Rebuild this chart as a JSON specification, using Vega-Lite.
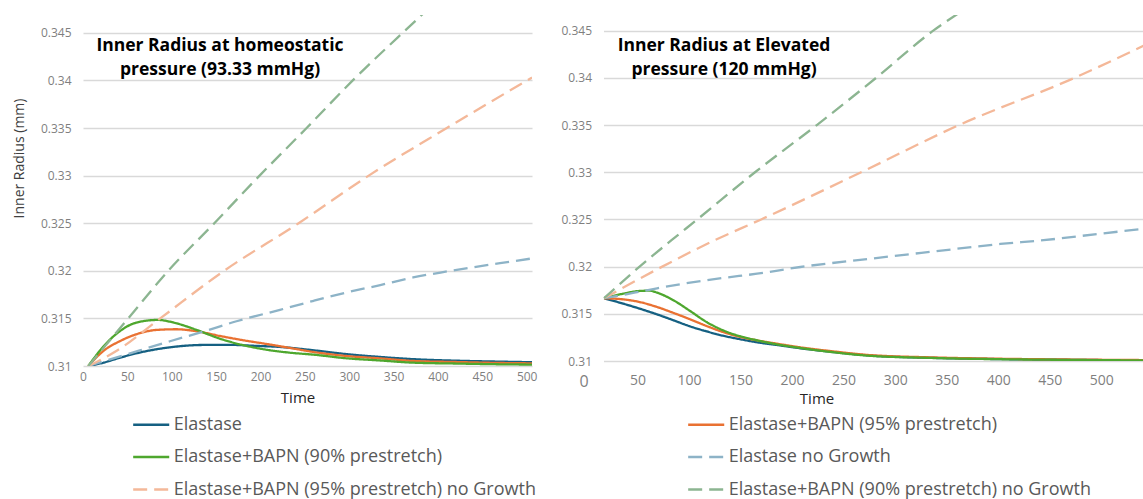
{
  "$schema": "https://vega.github.io/schema/vega-lite/v6.json",
  "background": "white",
  "padding": {"left": 12, "top": 15, "right": 0, "bottom": 0},
  "autosize": {"type": "pad"},
  "bounds": "flush",
  "spacing": 71.5,
  "config": {
    "font": "Open Sans",
    "view": {"stroke": null},
    "axis": {"labelFont": "Open Sans", "titleFont": "Open Sans"}
  },
  "resolve": {"scale": {"x": "independent", "y": "independent", "color": "independent", "strokeDash": "independent"}},
  "datasets": {
    "left": [
      {"t": 6, "r": 0.31, "series": "Elastase"},
      {"t": 23, "r": 0.31035, "series": "Elastase"},
      {"t": 42, "r": 0.31088, "series": "Elastase"},
      {"t": 60, "r": 0.31133, "series": "Elastase"},
      {"t": 83, "r": 0.31176, "series": "Elastase"},
      {"t": 105, "r": 0.31204, "series": "Elastase"},
      {"t": 135, "r": 0.31221, "series": "Elastase"},
      {"t": 165, "r": 0.31222, "series": "Elastase"},
      {"t": 196, "r": 0.31211, "series": "Elastase"},
      {"t": 222, "r": 0.312, "series": "Elastase"},
      {"t": 260, "r": 0.31165, "series": "Elastase"},
      {"t": 297, "r": 0.31125, "series": "Elastase"},
      {"t": 335, "r": 0.31095, "series": "Elastase"},
      {"t": 372, "r": 0.31072, "series": "Elastase"},
      {"t": 420, "r": 0.31056, "series": "Elastase"},
      {"t": 470, "r": 0.31046, "series": "Elastase"},
      {"t": 506, "r": 0.3104, "series": "Elastase"},

      {"t": 6, "r": 0.31, "series": "Elastase+BAPN (95% prestretch)"},
      {"t": 23, "r": 0.31158, "series": "Elastase+BAPN (95% prestretch)"},
      {"t": 42, "r": 0.31263, "series": "Elastase+BAPN (95% prestretch)"},
      {"t": 60, "r": 0.31333, "series": "Elastase+BAPN (95% prestretch)"},
      {"t": 83, "r": 0.31379, "series": "Elastase+BAPN (95% prestretch)"},
      {"t": 105, "r": 0.31386, "series": "Elastase+BAPN (95% prestretch)"},
      {"t": 128, "r": 0.31365, "series": "Elastase+BAPN (95% prestretch)"},
      {"t": 154, "r": 0.31316, "series": "Elastase+BAPN (95% prestretch)"},
      {"t": 181, "r": 0.3127, "series": "Elastase+BAPN (95% prestretch)"},
      {"t": 211, "r": 0.31225, "series": "Elastase+BAPN (95% prestretch)"},
      {"t": 233, "r": 0.3119, "series": "Elastase+BAPN (95% prestretch)"},
      {"t": 260, "r": 0.31147, "series": "Elastase+BAPN (95% prestretch)"},
      {"t": 297, "r": 0.31105, "series": "Elastase+BAPN (95% prestretch)"},
      {"t": 335, "r": 0.3108, "series": "Elastase+BAPN (95% prestretch)"},
      {"t": 372, "r": 0.31053, "series": "Elastase+BAPN (95% prestretch)"},
      {"t": 420, "r": 0.31042, "series": "Elastase+BAPN (95% prestretch)"},
      {"t": 470, "r": 0.31032, "series": "Elastase+BAPN (95% prestretch)"},
      {"t": 506, "r": 0.31028, "series": "Elastase+BAPN (95% prestretch)"},

      {"t": 6, "r": 0.31, "series": "Elastase+BAPN (90% prestretch)"},
      {"t": 23, "r": 0.31205, "series": "Elastase+BAPN (90% prestretch)"},
      {"t": 42, "r": 0.31369, "series": "Elastase+BAPN (90% prestretch)"},
      {"t": 60, "r": 0.31456, "series": "Elastase+BAPN (90% prestretch)"},
      {"t": 84, "r": 0.31484, "series": "Elastase+BAPN (90% prestretch)"},
      {"t": 105, "r": 0.31449, "series": "Elastase+BAPN (90% prestretch)"},
      {"t": 128, "r": 0.31379, "series": "Elastase+BAPN (90% prestretch)"},
      {"t": 154, "r": 0.31288, "series": "Elastase+BAPN (90% prestretch)"},
      {"t": 181, "r": 0.31218, "series": "Elastase+BAPN (90% prestretch)"},
      {"t": 211, "r": 0.31165, "series": "Elastase+BAPN (90% prestretch)"},
      {"t": 233, "r": 0.3114, "series": "Elastase+BAPN (90% prestretch)"},
      {"t": 260, "r": 0.31119, "series": "Elastase+BAPN (90% prestretch)"},
      {"t": 297, "r": 0.31081, "series": "Elastase+BAPN (90% prestretch)"},
      {"t": 335, "r": 0.31058, "series": "Elastase+BAPN (90% prestretch)"},
      {"t": 372, "r": 0.31035, "series": "Elastase+BAPN (90% prestretch)"},
      {"t": 420, "r": 0.31026, "series": "Elastase+BAPN (90% prestretch)"},
      {"t": 470, "r": 0.31018, "series": "Elastase+BAPN (90% prestretch)"},
      {"t": 506, "r": 0.31015, "series": "Elastase+BAPN (90% prestretch)"},

      {"t": 6, "r": 0.31, "series": "Elastase no Growth"},
      {"t": 45, "r": 0.3111, "series": "Elastase no Growth"},
      {"t": 98, "r": 0.3126, "series": "Elastase no Growth"},
      {"t": 135, "r": 0.3136, "series": "Elastase no Growth"},
      {"t": 173, "r": 0.3147, "series": "Elastase no Growth"},
      {"t": 222, "r": 0.3159, "series": "Elastase no Growth"},
      {"t": 260, "r": 0.31685, "series": "Elastase no Growth"},
      {"t": 297, "r": 0.31772, "series": "Elastase no Growth"},
      {"t": 335, "r": 0.3185, "series": "Elastase no Growth"},
      {"t": 372, "r": 0.3193, "series": "Elastase no Growth"},
      {"t": 410, "r": 0.31993, "series": "Elastase no Growth"},
      {"t": 470, "r": 0.3208, "series": "Elastase no Growth"},
      {"t": 506, "r": 0.3213, "series": "Elastase no Growth"},

      {"t": 6, "r": 0.31, "series": "Elastase+BAPN (95% prestretch) no Growth"},
      {"t": 38, "r": 0.3116, "series": "Elastase+BAPN (95% prestretch) no Growth"},
      {"t": 87, "r": 0.315, "series": "Elastase+BAPN (95% prestretch) no Growth"},
      {"t": 159, "r": 0.32, "series": "Elastase+BAPN (95% prestretch) no Growth"},
      {"t": 243, "r": 0.325, "series": "Elastase+BAPN (95% prestretch) no Growth"},
      {"t": 322, "r": 0.33, "series": "Elastase+BAPN (95% prestretch) no Growth"},
      {"t": 410, "r": 0.335, "series": "Elastase+BAPN (95% prestretch) no Growth"},
      {"t": 506, "r": 0.3403, "series": "Elastase+BAPN (95% prestretch) no Growth"},

      {"t": 6, "r": 0.31, "series": "Elastase+BAPN (90% prestretch) no Growth"},
      {"t": 51, "r": 0.315, "series": "Elastase+BAPN (90% prestretch) no Growth"},
      {"t": 96, "r": 0.32, "series": "Elastase+BAPN (90% prestretch) no Growth"},
      {"t": 148, "r": 0.325, "series": "Elastase+BAPN (90% prestretch) no Growth"},
      {"t": 199, "r": 0.33, "series": "Elastase+BAPN (90% prestretch) no Growth"},
      {"t": 252, "r": 0.335, "series": "Elastase+BAPN (90% prestretch) no Growth"},
      {"t": 304, "r": 0.34, "series": "Elastase+BAPN (90% prestretch) no Growth"},
      {"t": 382, "r": 0.3469, "series": "Elastase+BAPN (90% prestretch) no Growth"},
      {"t": 400, "r": 0.3485, "series": "Elastase+BAPN (90% prestretch) no Growth"}
    ],
    "right": [
      {"t": 17.5, "r": 0.31665, "series": "Elastase"},
      {"t": 36, "r": 0.31608, "series": "Elastase"},
      {"t": 52, "r": 0.31555, "series": "Elastase"},
      {"t": 69, "r": 0.31494, "series": "Elastase"},
      {"t": 85, "r": 0.31431, "series": "Elastase"},
      {"t": 101, "r": 0.31367, "series": "Elastase"},
      {"t": 117, "r": 0.31314, "series": "Elastase"},
      {"t": 133, "r": 0.31268, "series": "Elastase"},
      {"t": 150, "r": 0.3123, "series": "Elastase"},
      {"t": 166, "r": 0.31198, "series": "Elastase"},
      {"t": 185, "r": 0.3117, "series": "Elastase"},
      {"t": 208, "r": 0.31135, "series": "Elastase"},
      {"t": 240, "r": 0.31095, "series": "Elastase"},
      {"t": 273, "r": 0.3106, "series": "Elastase"},
      {"t": 337, "r": 0.31033, "series": "Elastase"},
      {"t": 402, "r": 0.3102, "series": "Elastase"},
      {"t": 467, "r": 0.31013, "series": "Elastase"},
      {"t": 541, "r": 0.31007, "series": "Elastase"},

      {"t": 17.5, "r": 0.31665, "series": "Elastase+BAPN (95% prestretch)"},
      {"t": 36, "r": 0.31653, "series": "Elastase+BAPN (95% prestretch)"},
      {"t": 52, "r": 0.31625, "series": "Elastase+BAPN (95% prestretch)"},
      {"t": 69, "r": 0.31572, "series": "Elastase+BAPN (95% prestretch)"},
      {"t": 85, "r": 0.31509, "series": "Elastase+BAPN (95% prestretch)"},
      {"t": 101, "r": 0.31442, "series": "Elastase+BAPN (95% prestretch)"},
      {"t": 117, "r": 0.31371, "series": "Elastase+BAPN (95% prestretch)"},
      {"t": 133, "r": 0.31307, "series": "Elastase+BAPN (95% prestretch)"},
      {"t": 150, "r": 0.31254, "series": "Elastase+BAPN (95% prestretch)"},
      {"t": 166, "r": 0.31219, "series": "Elastase+BAPN (95% prestretch)"},
      {"t": 185, "r": 0.31184, "series": "Elastase+BAPN (95% prestretch)"},
      {"t": 208, "r": 0.31145, "series": "Elastase+BAPN (95% prestretch)"},
      {"t": 240, "r": 0.31102, "series": "Elastase+BAPN (95% prestretch)"},
      {"t": 273, "r": 0.31065, "series": "Elastase+BAPN (95% prestretch)"},
      {"t": 337, "r": 0.31038, "series": "Elastase+BAPN (95% prestretch)"},
      {"t": 402, "r": 0.31024, "series": "Elastase+BAPN (95% prestretch)"},
      {"t": 467, "r": 0.31016, "series": "Elastase+BAPN (95% prestretch)"},
      {"t": 541, "r": 0.3101, "series": "Elastase+BAPN (95% prestretch)"},

      {"t": 17.5, "r": 0.31665, "series": "Elastase+BAPN (90% prestretch)"},
      {"t": 36, "r": 0.31713, "series": "Elastase+BAPN (90% prestretch)"},
      {"t": 52, "r": 0.31742, "series": "Elastase+BAPN (90% prestretch)"},
      {"t": 62, "r": 0.31745, "series": "Elastase+BAPN (90% prestretch)"},
      {"t": 69, "r": 0.31724, "series": "Elastase+BAPN (90% prestretch)"},
      {"t": 85, "r": 0.31643, "series": "Elastase+BAPN (90% prestretch)"},
      {"t": 101, "r": 0.3153, "series": "Elastase+BAPN (90% prestretch)"},
      {"t": 117, "r": 0.31413, "series": "Elastase+BAPN (90% prestretch)"},
      {"t": 133, "r": 0.31325, "series": "Elastase+BAPN (90% prestretch)"},
      {"t": 150, "r": 0.31261, "series": "Elastase+BAPN (90% prestretch)"},
      {"t": 166, "r": 0.31219, "series": "Elastase+BAPN (90% prestretch)"},
      {"t": 185, "r": 0.31177, "series": "Elastase+BAPN (90% prestretch)"},
      {"t": 208, "r": 0.31138, "series": "Elastase+BAPN (90% prestretch)"},
      {"t": 240, "r": 0.31093, "series": "Elastase+BAPN (90% prestretch)"},
      {"t": 273, "r": 0.31057, "series": "Elastase+BAPN (90% prestretch)"},
      {"t": 337, "r": 0.31032, "series": "Elastase+BAPN (90% prestretch)"},
      {"t": 402, "r": 0.31019, "series": "Elastase+BAPN (90% prestretch)"},
      {"t": 467, "r": 0.31012, "series": "Elastase+BAPN (90% prestretch)"},
      {"t": 541, "r": 0.31006, "series": "Elastase+BAPN (90% prestretch)"},

      {"t": 17.5, "r": 0.31665, "series": "Elastase no Growth"},
      {"t": 36, "r": 0.317, "series": "Elastase no Growth"},
      {"t": 69, "r": 0.3177, "series": "Elastase no Growth"},
      {"t": 101, "r": 0.3183, "series": "Elastase no Growth"},
      {"t": 133, "r": 0.3188, "series": "Elastase no Growth"},
      {"t": 166, "r": 0.31925, "series": "Elastase no Growth"},
      {"t": 208, "r": 0.31996, "series": "Elastase no Growth"},
      {"t": 273, "r": 0.3208, "series": "Elastase no Growth"},
      {"t": 337, "r": 0.3216, "series": "Elastase no Growth"},
      {"t": 402, "r": 0.3224, "series": "Elastase no Growth"},
      {"t": 444, "r": 0.3228, "series": "Elastase no Growth"},
      {"t": 500, "r": 0.3235, "series": "Elastase no Growth"},
      {"t": 541, "r": 0.324, "series": "Elastase no Growth"},

      {"t": 17.5, "r": 0.31665, "series": "Elastase+BAPN (95% prestretch) no Growth"},
      {"t": 74, "r": 0.32, "series": "Elastase+BAPN (95% prestretch) no Growth"},
      {"t": 125, "r": 0.3228, "series": "Elastase+BAPN (95% prestretch) no Growth"},
      {"t": 170, "r": 0.325, "series": "Elastase+BAPN (95% prestretch) no Growth"},
      {"t": 267, "r": 0.33, "series": "Elastase+BAPN (95% prestretch) no Growth"},
      {"t": 362, "r": 0.335, "series": "Elastase+BAPN (95% prestretch) no Growth"},
      {"t": 474, "r": 0.34, "series": "Elastase+BAPN (95% prestretch) no Growth"},
      {"t": 541, "r": 0.3434, "series": "Elastase+BAPN (95% prestretch) no Growth"},

      {"t": 17.5, "r": 0.31665, "series": "Elastase+BAPN (90% prestretch) no Growth"},
      {"t": 52, "r": 0.32, "series": "Elastase+BAPN (90% prestretch) no Growth"},
      {"t": 83, "r": 0.3228, "series": "Elastase+BAPN (90% prestretch) no Growth"},
      {"t": 108, "r": 0.325, "series": "Elastase+BAPN (90% prestretch) no Growth"},
      {"t": 164, "r": 0.33, "series": "Elastase+BAPN (90% prestretch) no Growth"},
      {"t": 224, "r": 0.335, "series": "Elastase+BAPN (90% prestretch) no Growth"},
      {"t": 281.5, "r": 0.34, "series": "Elastase+BAPN (90% prestretch) no Growth"},
      {"t": 337, "r": 0.345, "series": "Elastase+BAPN (90% prestretch) no Growth"},
      {"t": 359, "r": 0.34666, "series": "Elastase+BAPN (90% prestretch) no Growth"},
      {"t": 372, "r": 0.3476, "series": "Elastase+BAPN (90% prestretch) no Growth"}
    ]
  },
  "hconcat": [
    {
      "width": 449,
      "height": 351,
      "data": {"name": "left"},
      "title": {
        "text": ["Inner Radius at homeostatic", "pressure (93.33 mmHg)"],
        "anchor": "start", "align": "center", "frame": "group",
        "dx": 137, "dy": 63, "offset": 0, "baseline": "top",
        "font": "Open Sans", "fontSize": 17.5, "fontWeight": "bold", "color": "#000000", "lineHeight": 24
      },
      "mark": {"type": "line", "interpolate": "monotone", "strokeWidth": 2.3, "clip": true},
      "encoding": {
        "x": {
          "field": "t", "type": "quantitative",
          "scale": {"domain": [0, 506], "nice": false, "zero": false},
          "axis": {
            "values": [0, 50, 100, 150, 200, 250, 300, 350, 400, 450, 500],
            "grid": false, "domain": false, "ticks": false,
            "labelFontSize": 12, "labelColor": "#7f7f7f", "labelPadding": 5,
            "labelFlush": false, "labelOverlap": false,
            "title": "Time", "titleFontSize": 15, "titleFontWeight": "normal", "titleColor": "#262626",
            "titleX": 214.5, "titleY": 31.5, "titleAlign": "center", "titleBaseline": "middle"
          }
        },
        "y": {
          "field": "r", "type": "quantitative",
          "scale": {"domain": [0.31, 0.34687], "nice": false, "zero": false},
          "axis": {
            "values": [0.31, 0.315, 0.32, 0.325, 0.33, 0.335, 0.34, 0.345],
            "format": "~g",
            "grid": true, "gridColor": "#d9d9d9", "gridWidth": 1.3,
            "domain": false, "ticks": false,
            "labelFontSize": 12, "labelColor": "#7f7f7f", "labelPadding": 12, "labelFlush": false,
            "title": "Inner Radius (mm)", "titleFontSize": 14, "titleFontWeight": "normal", "titleColor": "#404040",
            "titleAngle": 270, "titleX": -63.3, "titleY": 143, "titleAlign": "center", "titleBaseline": "middle"
          }
        },
        "color": {
          "field": "series", "type": "nominal",
          "scale": {
            "domain": ["Elastase", "Elastase+BAPN (90% prestretch)", "Elastase+BAPN (95% prestretch) no Growth", "Elastase+BAPN (95% prestretch)", "Elastase no Growth", "Elastase+BAPN (90% prestretch) no Growth"],
            "range": ["#156082", "#4EA72E", "#F4B899", "#E97132", "#8DB3C7", "#8CB591"]
          },
          "legend": {
            "title": null, "orient": "none", "legendX": 48.7, "legendY": 390,
            "columns": 2, "columnPadding": 146, "rowPadding": 3.5, "padding": 0,
            "symbolType": "stroke", "symbolSize": 1300, "symbolStrokeWidth": 2.3,
            "labelFont": "Open Sans", "labelFontSize": 18, "labelColor": "#595959", "labelOffset": 3, "labelLimit": 600
          }
        },
        "strokeDash": {
          "field": "series", "type": "nominal",
          "scale": {
            "domain": ["Elastase", "Elastase+BAPN (90% prestretch)", "Elastase+BAPN (95% prestretch) no Growth", "Elastase+BAPN (95% prestretch)", "Elastase no Growth", "Elastase+BAPN (90% prestretch) no Growth"],
            "range": [[1, 0], [1, 0], [14, 7], [1, 0], [14, 7], [14, 7]]
          },
          "legend": {
            "title": null, "orient": "none", "legendX": 48.7, "legendY": 390,
            "columns": 2, "columnPadding": 146, "rowPadding": 3.5, "padding": 0,
            "symbolType": "stroke", "symbolSize": 1300, "symbolStrokeWidth": 2.3,
            "labelFont": "Open Sans", "labelFontSize": 18, "labelColor": "#595959", "labelOffset": 3, "labelLimit": 600
          }
        }
      }
    },
    {
      "width": 540,
      "height": 346,
      "data": {"name": "right"},
      "title": {
        "text": ["Inner Radius at Elevated", "pressure (120 mmHg)"],
        "anchor": "start", "align": "center", "frame": "group",
        "dx": 120.5, "dy": 63, "offset": 0, "baseline": "top",
        "font": "Open Sans", "fontSize": 17.5, "fontWeight": "bold", "color": "#000000", "lineHeight": 24
      },
      "mark": {"type": "line", "interpolate": "monotone", "strokeWidth": 2.3, "clip": true},
      "encoding": {
        "x": {
          "field": "t", "type": "quantitative",
          "scale": {"domain": [17, 541], "nice": false, "zero": false},
          "axis": {
            "values": [17, 50, 100, 150, 200, 250, 300, 350, 400, 450, 500],
            "labelExpr": "datum.value == 17 ? '0' : datum.label",
            "grid": false, "domain": false, "ticks": false,
            "labelFontSize": {"condition": {"test": "datum.value == 17", "value": 16}, "value": 14},
            "labelOffset": {"condition": {"test": "datum.value == 17", "value": -20}, "value": 0},
            "labelColor": "#7f7f7f", "labelPadding": 12,
            "labelFlush": false, "labelOverlap": false,
            "title": "Time", "titleFontSize": 15, "titleFontWeight": "normal", "titleColor": "#262626",
            "titleX": 213, "titleY": 37, "titleAlign": "center", "titleBaseline": "middle"
          }
        },
        "y": {
          "field": "r", "type": "quantitative",
          "scale": {"domain": [0.31, 0.34666], "nice": false, "zero": false},
          "axis": {
            "values": [0.31, 0.315, 0.32, 0.325, 0.33, 0.335, 0.34, 0.345],
            "format": "~g",
            "grid": true, "gridColor": "#d9d9d9", "gridWidth": 1.3,
            "domain": false, "ticks": false,
            "labelFontSize": 12, "labelColor": "#7f7f7f", "labelPadding": 12, "labelFlush": false,
            "title": null
          }
        },
        "color": {
          "field": "series", "type": "nominal",
          "scale": {
            "domain": ["Elastase", "Elastase+BAPN (90% prestretch)", "Elastase+BAPN (95% prestretch) no Growth", "Elastase+BAPN (95% prestretch)", "Elastase no Growth", "Elastase+BAPN (90% prestretch) no Growth"],
            "range": ["#156082", "#4EA72E", "#F4B899", "#E97132", "#8DB3C7", "#8CB591"]
          },
          "legend": null
        },
        "strokeDash": {
          "field": "series", "type": "nominal",
          "scale": {
            "domain": ["Elastase", "Elastase+BAPN (90% prestretch)", "Elastase+BAPN (95% prestretch) no Growth", "Elastase+BAPN (95% prestretch)", "Elastase no Growth", "Elastase+BAPN (90% prestretch) no Growth"],
            "range": [[1, 0], [1, 0], [14, 7], [1, 0], [14, 7], [14, 7]]
          },
          "legend": null
        }
      }
    }
  ]
}
